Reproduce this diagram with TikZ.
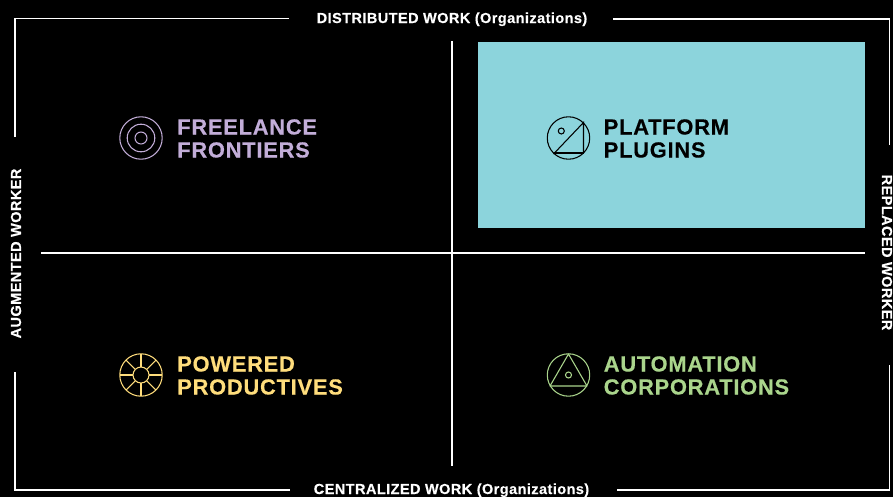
\documentclass[tikz,border=0pt]{standalone}
\usepackage{fontspec}
\setmainfont{Liberation Sans}
\newfontfamily\axisfont[LetterSpace=2.9,FakeBold=0.25]{Liberation Sans Bold}
\newfontfamily\titlefont[LetterSpace=3.5,FakeBold=0.35]{Liberation Sans Bold}
\definecolor{purp}{HTML}{C2ADD8}
\definecolor{teal1}{HTML}{8CD4DC}
\definecolor{yell}{HTML}{FFDD7C}
\definecolor{gree}{HTML}{AAD58C}
\tikzset{
  axisline/.style={draw=white,line width=1.5pt*0.75},
  axislabel/.style={text=white,inner sep=0pt,font=\axisfont\fontsize{10.9}{12}\selectfont},
  title/.style={inner sep=0pt,anchor=base west,font=\titlefont\fontsize{16.4}{17}\selectfont},
  icon/.style={line width=0.8pt,fill=none},
}
\begin{document}
\begin{tikzpicture}[x=0.75pt,y=-0.75pt]
\useasboundingbox (0,0) rectangle (893,497);
\fill[black] (0,0) rectangle (893,497);
\fill[teal1] (478,42) rectangle (865,228);
% outer frame
\coordinate (tl) at (289,18.5); \coordinate (tlc) at (15,18.5); \coordinate (lt) at (15,137);
\coordinate (lb) at (15,372); \coordinate (blc) at (15,490); \coordinate (bl) at (290,490);
\coordinate (br) at (617,490); \coordinate (brc) at (889.5,490); \coordinate (rb) at (889.5,365);
\coordinate (rt) at (889.5,145); \coordinate (trc) at (889.5,19); \coordinate (tr) at (613,19);
\draw[axisline] (tl) -- (tlc) -- (lt);
\draw[axisline] (lb) -- (blc) -- (bl);
\draw[axisline] (br) -- (brc) -- (rb);
\draw[axisline] (rt) -- (trc) -- (tr);
% centre cross
\coordinate (vt) at (452,41); \coordinate (vb) at (452,466);
\coordinate (hl) at (41,253); \coordinate (hr) at (865,253);
\draw[axisline] (vt) -- (vb);
\draw[axisline] (hl) -- (hr);
% axis labels
\node[axislabel,anchor=base] (top) at (452,23) {DISTRIBUTED WORK (Organizations)};
\node[axislabel,anchor=base] (bot) at (451.5,494) {CENTRALIZED WORK (Organizations)};
\node[axislabel,anchor=base,rotate=90] (left) at (21,253.5) {AUGMENTED WORKER};
\node[axislabel,anchor=base,rotate=-90] (right) at (882,252.5) {REPLACED WORKER};
% icon: freelance
\begin{scope}[icon,draw=purp]
\draw (141,138) circle[radius=21.2*0.75pt];
\draw (141,138) circle[radius=13.8*0.75pt];
\draw (141,138) circle[radius=6*0.75pt];
\end{scope}
% icon: platform
\begin{scope}[icon,draw=black]
\draw (568.5,138) circle[radius=21.2*0.75pt];
\draw (561.3,131) circle[radius=3*0.75pt];
\draw (553.5,154) -- (583.5,122.5) -- (583.5,153);
\draw[line width=1.3pt] (554,153) -- (583.5,153);
\end{scope}
% icon: powered
\begin{scope}[icon,draw=yell]
\draw (141,375) circle[radius=21.2*0.75pt];
\draw (141,375) circle[radius=8*0.75pt];
\foreach \a in {0,45,...,315}
  \draw (141,375) ++(\a:8*0.75pt) -- ++(\a:13.2*0.75pt);
\end{scope}
% icon: automation
\begin{scope}[icon,draw=gree]
\draw (568.5,375) circle[radius=21.2*0.75pt];
\draw (568.5,375) circle[radius=3*0.75pt];
\draw[line join=round] (568.5,354) -- (587,386) -- (550,386) -- cycle;
\end{scope}
% titles
\node[title,text=purp] (f1) at (177,134.5) {FREELANCE};
\node[title,text=purp] (f2) at (177,157.5) {FRONTIERS};
\node[title,text=black] (p1) at (603.5,134.5) {PLATFORM};
\node[title,text=black] (p2) at (603.5,157.5) {PLUGINS};
\node[title,text=yell] (w1) at (177,371.5) {POWERED};
\node[title,text=yell] (w2) at (177,394.5) {PRODUCTIVES};
\node[title,text=gree] (a1) at (603.5,371.5) {AUTOMATION};
\node[title,text=gree] (a2) at (603.5,394.5) {CORPORATIONS};
\end{tikzpicture}
\end{document}
